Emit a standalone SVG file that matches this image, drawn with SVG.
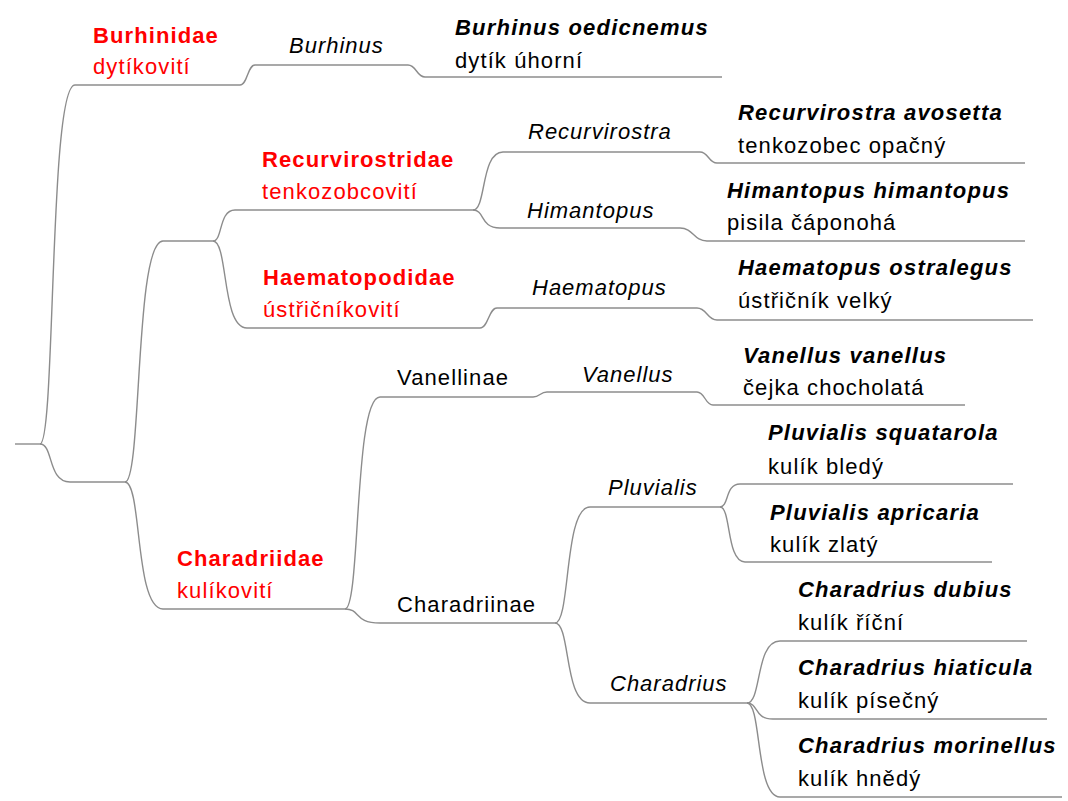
<svg xmlns="http://www.w3.org/2000/svg" width="1068" height="801" viewBox="0 0 1068 801">
<style>
.l{fill:none;stroke:#8c8c8c;stroke-width:1.4}
text{font-family:"Liberation Sans",Arial,sans-serif;font-size:22px;letter-spacing:1.1px;fill:#000}
.fam{font-weight:bold;fill:#f00;letter-spacing:1.1px}
.famc{fill:#f00}
.gen{font-style:italic;letter-spacing:1px}
.sp{font-weight:bold;font-style:italic;letter-spacing:1.2px}
</style>
<rect width="1068" height="801" fill="#fff"/>
<g id="connectors" class="l">
<path d="M40,444 C55.75,444 48.75,85 75,85"/>
<path d="M40,444 C53.5,444 47.5,482 70,482"/>
<path d="M240,85 C247.5,85 247.5,65 255,65"/>
<path d="M408,65 C416.5,65 416.5,77 425,77"/>
<path d="M125,482 C142.1,482 134.5,241 163,241"/>
<path d="M125,482 C142.1,482 134.5,609 163,609"/>
<path d="M213,241 C222.9,241 218.5,210 235,210"/>
<path d="M213,241 C228.3,241 221.5,328 247,328"/>
<path d="M473,210 C486.5,210 480.5,152 503,152"/>
<path d="M473,210 C485.15,210 479.75,228 500,228"/>
<path d="M700,152 C708.5,152 708.5,163 717,163"/>
<path d="M680,228 C693.5,228 693.5,241 707,241"/>
<path d="M480,328 C488.5,328 488.5,308 497,308"/>
<path d="M697,308 C707,308 707,320 717,320"/>
<path d="M345,609 C360.75,609 353.75,397 380,397"/>
<path d="M345,609 C360.75,609 353.75,623 380,623"/>
<path d="M533,397 C540,397 540,392 547,392"/>
<path d="M697,392 C705,392 705,405 713,405"/>
<path d="M555,623 C570.75,623 563.75,507 590,507"/>
<path d="M555,623 C570.75,623 563.75,703 590,703"/>
<path d="M720,507 C729,507 725,484 740,484"/>
<path d="M720,507 C731.25,507 726.25,562 745,562"/>
<path d="M747,703 C761.85,703 755.25,641 780,641"/>
<path d="M747,703 C758.7,703 753.5,719 773,719"/>
<path d="M747,703 C761.85,703 755.25,797 780,797"/>
</g>
<g id="root"><path class="l" d="M15,444 H40"/></g>
<g id="burhinidae"><path class="l" d="M75,85 H240"/><text class="fam" x="93" y="43">Burhinidae</text><text class="famc" x="93" y="74">dytíkovití</text></g>
<g id="burhinus"><path class="l" d="M255,65 H408"/><text class="gen" x="289" y="53">Burhinus</text></g>
<g id="burhinus-oedicnemus"><path class="l" d="M425,77 H722"/><text class="sp" x="455" y="35">Burhinus oedicnemus</text><text x="455" y="68">dytík úhorní</text></g>
<g id="clade-a"><path class="l" d="M70,482 H125"/></g>
<g id="clade-b"><path class="l" d="M163,241 H213"/></g>
<g id="recurvirostridae"><path class="l" d="M235,210 H473"/><text class="fam" x="262" y="167">Recurvirostridae</text><text class="famc" x="262" y="199">tenkozobcovití</text></g>
<g id="recurvirostra"><path class="l" d="M503,152 H700"/><text class="gen" x="528" y="139">Recurvirostra</text></g>
<g id="recurvirostra-avosetta"><path class="l" d="M717,163 H1025"/><text class="sp" x="738" y="120">Recurvirostra avosetta</text><text x="738" y="153">tenkozobec opačný</text></g>
<g id="himantopus"><path class="l" d="M500,228 H680"/><text class="gen" x="527" y="218">Himantopus</text></g>
<g id="himantopus-himantopus"><path class="l" d="M707,241 H1025"/><text class="sp" x="727" y="198">Himantopus himantopus</text><text x="727" y="230">pisila čáponohá</text></g>
<g id="haematopodidae"><path class="l" d="M247,328 H480"/><text class="fam" x="263" y="285">Haematopodidae</text><text class="famc" x="263" y="317">ústřičníkovití</text></g>
<g id="haematopus"><path class="l" d="M497,308 H697"/><text class="gen" x="532" y="295">Haematopus</text></g>
<g id="haematopus-ostralegus"><path class="l" d="M717,320 H1033"/><text class="sp" x="738" y="275">Haematopus ostralegus</text><text x="738" y="308">ústřičník velký</text></g>
<g id="charadriidae"><path class="l" d="M163,609 H345"/><text class="fam" x="177" y="566">Charadriidae</text><text class="famc" x="177" y="598">kulíkovití</text></g>
<g id="vanellinae"><path class="l" d="M380,397 H533"/><text x="397" y="385">Vanellinae</text></g>
<g id="vanellus"><path class="l" d="M547,392 H697"/><text class="gen" x="582" y="382">Vanellus</text></g>
<g id="vanellus-vanellus"><path class="l" d="M713,405 H965"/><text class="sp" x="743" y="363">Vanellus vanellus</text><text x="743" y="395">čejka chocholatá</text></g>
<g id="charadriinae"><path class="l" d="M380,623 H555"/><text x="397" y="612">Charadriinae</text></g>
<g id="pluvialis"><path class="l" d="M590,507 H720"/><text class="gen" x="608" y="495">Pluvialis</text></g>
<g id="pluvialis-squatarola"><path class="l" d="M740,484 H1013"/><text class="sp" x="768" y="440">Pluvialis squatarola</text><text x="768" y="474">kulík bledý</text></g>
<g id="pluvialis-apricaria"><path class="l" d="M745,562 H992"/><text class="sp" x="770" y="520">Pluvialis apricaria</text><text x="770" y="552">kulík zlatý</text></g>
<g id="charadrius"><path class="l" d="M590,703 H747"/><text class="gen" x="610" y="691">Charadrius</text></g>
<g id="charadrius-dubius"><path class="l" d="M780,641 H1027"/><text class="sp" x="798" y="597">Charadrius dubius</text><text x="798" y="630">kulík říční</text></g>
<g id="charadrius-hiaticula"><path class="l" d="M773,719 H1047"/><text class="sp" x="798" y="675">Charadrius hiaticula</text><text x="798" y="708">kulík písečný</text></g>
<g id="charadrius-morinellus"><path class="l" d="M780,797 H1062"/><text class="sp" x="798" y="753">Charadrius morinellus</text><text x="798" y="786">kulík hnědý</text></g>
</svg>
